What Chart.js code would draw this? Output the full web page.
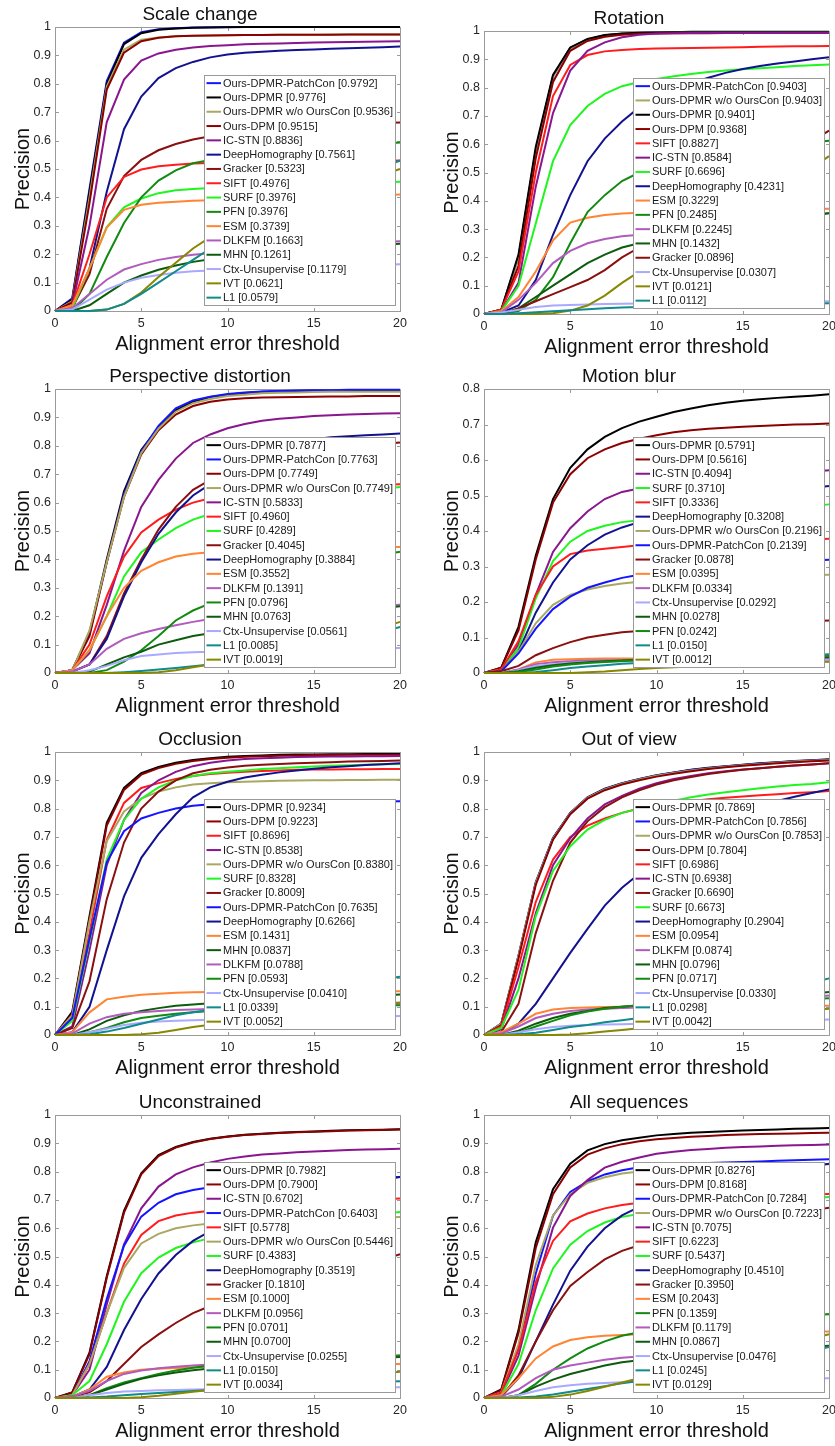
<!DOCTYPE html>
<html>
<head>
<meta charset="utf-8">
<script src="https://cdn.jsdelivr.net/npm/chart.js@4.4.1/dist/chart.umd.min.js"></script>
<style>
html,body{margin:0;padding:0;background:#fff;width:835px;height:1446px;overflow:hidden;position:relative;}
canvas{position:absolute;display:block;}
</style>
</head>
<body>
<script>
// ---------------- DATA ----------------
const thresholds = [0,1,2,3,4,5,6,7,8,9,10,11,12,13,14,15,16,17,18,19,20];
const xTickValues = [0,5,10,15,20];

// Scale change
const scaleTitle = 'Scale change';
const scaleNames = ['Ours-DPMR-PatchCon','Ours-DPMR','Ours-DPMR w/o OursCon','Ours-DPM','IC-STN','DeepHomography','Gracker','SIFT','SURF','PFN','ESM','DLKFM','MHN','Ctx-Unsupervise','IVT','L1'];
const scaleAUC = [0.9792,0.9776,0.9536,0.9515,0.8836,0.7561,0.5323,0.4976,0.3976,0.3976,0.3739,0.1663,0.1261,0.1179,0.0621,0.0579];
const scaleValues = [
[0,0.045,0.43,0.81,0.945,0.982,0.992,0.996,0.998,0.999,1,1,1,1,1,1,1,1,1,1,1],
[0,0.04,0.42,0.80,0.94,0.978,0.99,0.995,0.997,0.998,0.999,1,1,1,1,1,1,1,1,1,1],
[0,0.035,0.40,0.79,0.92,0.955,0.963,0.967,0.969,0.97,0.971,0.972,0.972,0.973,0.973,0.973,0.974,0.974,0.974,0.974,0.974],
[0,0.03,0.38,0.78,0.91,0.95,0.962,0.967,0.969,0.97,0.971,0.972,0.972,0.973,0.973,0.973,0.973,0.974,0.974,0.974,0.974],
[0,0.02,0.30,0.665,0.815,0.882,0.907,0.92,0.928,0.933,0.936,0.939,0.941,0.942,0.944,0.945,0.946,0.947,0.948,0.949,0.95],
[0,0.01,0.15,0.42,0.64,0.755,0.82,0.855,0.877,0.893,0.903,0.909,0.913,0.916,0.919,0.921,0.923,0.925,0.927,0.929,0.931],
[0,0.01,0.13,0.36,0.475,0.532,0.566,0.588,0.604,0.615,0.624,0.632,0.638,0.643,0.647,0.651,0.654,0.657,0.659,0.662,0.664],
[0,0.02,0.20,0.40,0.472,0.498,0.51,0.515,0.519,0.521,0.523,0.524,0.525,0.526,0.527,0.527,0.528,0.528,0.529,0.529,0.53],
[0,0.01,0.15,0.296,0.365,0.396,0.415,0.425,0.43,0.433,0.436,0.438,0.44,0.442,0.444,0.446,0.448,0.45,0.451,0.453,0.455],
[0,0,0.06,0.19,0.31,0.40,0.459,0.495,0.52,0.532,0.54,0.548,0.555,0.561,0.567,0.572,0.577,0.581,0.585,0.589,0.593],
[0,0.02,0.15,0.294,0.356,0.374,0.381,0.385,0.388,0.39,0.392,0.394,0.396,0.398,0.4,0.402,0.403,0.405,0.407,0.408,0.41],
[0,0.01,0.06,0.11,0.146,0.165,0.18,0.19,0.198,0.203,0.208,0.212,0.216,0.22,0.224,0.228,0.232,0.235,0.239,0.243,0.246],
[0,0,0.02,0.06,0.10,0.125,0.145,0.16,0.173,0.182,0.19,0.196,0.202,0.207,0.212,0.217,0.221,0.225,0.229,0.233,0.237],
[0,0.005,0.04,0.075,0.10,0.117,0.127,0.135,0.14,0.143,0.146,0.148,0.15,0.152,0.154,0.156,0.158,0.16,0.162,0.163,0.165],
[0,0,0,0.005,0.025,0.065,0.12,0.17,0.22,0.26,0.29,0.32,0.345,0.37,0.39,0.41,0.43,0.45,0.465,0.48,0.50],
[0,0,0,0.005,0.025,0.06,0.1,0.14,0.18,0.22,0.255,0.29,0.32,0.35,0.38,0.405,0.43,0.455,0.48,0.505,0.53]
];

// Rotation
const rotationTitle = 'Rotation';
const rotationNames = ['Ours-DPMR-PatchCon','Ours-DPMR w/o OursCon','Ours-DPMR','Ours-DPM','SIFT','IC-STN','SURF','DeepHomography','ESM','PFN','DLKFM','MHN','Gracker','Ctx-Unsupervise','IVT','L1'];
const rotationAUC = [0.9403,0.9403,0.9401,0.9368,0.8827,0.8584,0.6696,0.4231,0.3229,0.2485,0.2245,0.1432,0.0896,0.0307,0.0121,0.0112];
const rotationValues = [
[0,0.015,0.2,0.58,0.84,0.94,0.97,0.985,0.99,0.993,0.995,0.996,0.997,0.997,0.997,0.997,0.997,0.997,0.997,0.997,0.997],
[0,0.015,0.2,0.58,0.84,0.94,0.97,0.985,0.99,0.993,0.995,0.996,0.997,0.997,0.997,0.997,0.997,0.997,0.997,0.997,0.997],
[0,0.015,0.21,0.59,0.845,0.942,0.972,0.986,0.991,0.994,0.995,0.996,0.996,0.996,0.996,0.996,0.996,0.996,0.996,0.996,0.996],
[0,0.015,0.17,0.55,0.82,0.93,0.965,0.98,0.987,0.99,0.991,0.992,0.992,0.992,0.993,0.993,0.993,0.993,0.993,0.993,0.993],
[0,0.015,0.15,0.50,0.77,0.88,0.915,0.928,0.933,0.936,0.938,0.939,0.94,0.941,0.942,0.943,0.944,0.945,0.946,0.946,0.947],
[0,0.01,0.11,0.45,0.71,0.86,0.93,0.96,0.978,0.987,0.991,0.992,0.993,0.993,0.993,0.993,0.993,0.993,0.993,0.993,0.993],
[0,0.01,0.10,0.32,0.54,0.668,0.735,0.778,0.805,0.82,0.83,0.84,0.848,0.855,0.86,0.865,0.868,0.872,0.876,0.879,0.882],
[0,0.005,0.03,0.12,0.28,0.42,0.54,0.62,0.68,0.73,0.765,0.79,0.815,0.835,0.852,0.866,0.876,0.885,0.892,0.90,0.907],
[0,0.01,0.06,0.15,0.26,0.323,0.34,0.35,0.355,0.358,0.36,0.361,0.362,0.364,0.365,0.366,0.367,0.368,0.37,0.371,0.372],
[0,0,0.01,0.05,0.13,0.25,0.36,0.42,0.47,0.50,0.52,0.535,0.548,0.56,0.57,0.578,0.586,0.593,0.6,0.606,0.612],
[0,0.005,0.05,0.11,0.18,0.223,0.25,0.265,0.275,0.28,0.287,0.294,0.301,0.308,0.315,0.322,0.329,0.336,0.343,0.35,0.357],
[0,0,0.02,0.06,0.10,0.14,0.18,0.21,0.235,0.25,0.262,0.273,0.284,0.294,0.304,0.313,0.322,0.331,0.34,0.348,0.356],
[0,0,0.02,0.045,0.07,0.095,0.12,0.155,0.2,0.235,0.27,0.31,0.35,0.39,0.43,0.465,0.5,0.54,0.575,0.61,0.648],
[0,0.005,0.015,0.025,0.03,0.032,0.034,0.035,0.036,0.037,0.038,0.039,0.039,0.04,0.04,0.041,0.042,0.043,0.043,0.044,0.045],
[0,0,0,0,0.003,0.012,0.03,0.065,0.11,0.15,0.19,0.225,0.26,0.295,0.33,0.37,0.405,0.44,0.475,0.515,0.558],
[0,0,0.003,0.006,0.01,0.013,0.017,0.02,0.023,0.025,0.027,0.028,0.029,0.03,0.031,0.032,0.033,0.034,0.035,0.037,0.038]
];

// Perspective distortion
const perspectiveTitle = 'Perspective distortion';
const perspectiveNames = ['Ours-DPMR','Ours-DPMR-PatchCon','Ours-DPM','Ours-DPMR w/o OursCon','IC-STN','SIFT','SURF','Gracker','DeepHomography','ESM','DLKFM','PFN','MHN','Ctx-Unsupervise','L1','IVT'];
const perspectiveAUC = [0.7877,0.7763,0.7749,0.7749,0.5833,0.4960,0.4289,0.4045,0.3884,0.3552,0.1391,0.0796,0.0763,0.0561,0.0085,0.0019];
const perspectiveValues = [
[0,0.01,0.14,0.40,0.64,0.785,0.865,0.925,0.955,0.972,0.98,0.986,0.99,0.992,0.993,0.994,0.994,0.995,0.995,0.995,0.995],
[0,0.01,0.14,0.39,0.63,0.78,0.87,0.932,0.96,0.973,0.982,0.988,0.991,0.993,0.995,0.996,0.996,0.997,0.997,0.997,0.997],
[0,0.01,0.13,0.39,0.62,0.77,0.855,0.91,0.94,0.955,0.963,0.967,0.97,0.971,0.972,0.973,0.974,0.974,0.975,0.975,0.975],
[0,0.01,0.15,0.39,0.62,0.775,0.86,0.92,0.95,0.965,0.975,0.98,0.985,0.987,0.988,0.989,0.99,0.99,0.99,0.99,0.99],
[0,0.01,0.07,0.24,0.43,0.585,0.68,0.755,0.81,0.84,0.862,0.877,0.888,0.895,0.9,0.905,0.908,0.91,0.912,0.914,0.915],
[0,0.01,0.10,0.27,0.41,0.495,0.54,0.575,0.60,0.615,0.625,0.633,0.64,0.645,0.649,0.653,0.656,0.659,0.661,0.663,0.665],
[0,0.01,0.08,0.20,0.34,0.425,0.47,0.51,0.54,0.56,0.574,0.586,0.597,0.607,0.616,0.624,0.631,0.637,0.643,0.649,0.655],
[0,0.005,0.03,0.13,0.28,0.40,0.505,0.585,0.645,0.68,0.705,0.725,0.742,0.756,0.768,0.778,0.787,0.794,0.8,0.806,0.812],
[0,0.005,0.03,0.12,0.27,0.39,0.49,0.565,0.625,0.665,0.71,0.745,0.775,0.798,0.813,0.823,0.83,0.834,0.837,0.84,0.843],
[0,0.01,0.08,0.20,0.30,0.36,0.39,0.41,0.42,0.425,0.429,0.432,0.434,0.436,0.438,0.439,0.44,0.441,0.442,0.443,0.444],
[0,0.005,0.03,0.085,0.12,0.14,0.155,0.168,0.18,0.19,0.196,0.201,0.206,0.211,0.216,0.221,0.225,0.229,0.233,0.237,0.24],
[0,0,0,0.01,0.04,0.08,0.13,0.185,0.22,0.245,0.27,0.29,0.31,0.33,0.345,0.36,0.375,0.39,0.403,0.416,0.427],
[0,0,0.005,0.03,0.055,0.075,0.10,0.115,0.13,0.14,0.149,0.158,0.167,0.176,0.185,0.194,0.203,0.212,0.22,0.228,0.235],
[0,0,0.01,0.025,0.045,0.06,0.065,0.07,0.073,0.075,0.077,0.078,0.079,0.08,0.081,0.082,0.083,0.084,0.085,0.087,0.088],
[0,0,0,0,0.003,0.007,0.012,0.018,0.024,0.03,0.037,0.045,0.055,0.065,0.077,0.089,0.102,0.115,0.128,0.145,0.162],
[0,0,0,0,0,0,0.003,0.01,0.02,0.03,0.04,0.05,0.062,0.075,0.088,0.1,0.114,0.128,0.142,0.16,0.18]
];

// Motion blur
const motionTitle = 'Motion blur';
const motionNames = ['Ours-DPMR','Ours-DPM','IC-STN','SURF','SIFT','DeepHomography','Ours-DPMR w/o OursCon','Ours-DPMR-PatchCon','Gracker','ESM','DLKFM','Ctx-Unsupervise','MHN','PFN','L1','IVT'];
const motionAUC = [0.5791,0.5616,0.4094,0.3710,0.3336,0.3208,0.2196,0.2139,0.0878,0.0395,0.0334,0.0292,0.0278,0.0242,0.0150,0.0012];
const motionValues = [
[0,0.015,0.13,0.33,0.49,0.578,0.63,0.665,0.69,0.708,0.722,0.735,0.745,0.754,0.761,0.767,0.771,0.775,0.778,0.781,0.785],
[0,0.015,0.12,0.32,0.48,0.56,0.605,0.63,0.648,0.66,0.67,0.678,0.684,0.688,0.691,0.694,0.696,0.698,0.70,0.701,0.703],
[0,0.01,0.08,0.22,0.341,0.408,0.455,0.49,0.51,0.52,0.527,0.533,0.538,0.543,0.547,0.551,0.555,0.559,0.563,0.567,0.571],
[0,0.01,0.07,0.21,0.315,0.37,0.40,0.415,0.425,0.43,0.434,0.438,0.442,0.446,0.45,0.454,0.458,0.462,0.466,0.47,0.475],
[0,0.01,0.09,0.22,0.30,0.335,0.345,0.35,0.355,0.36,0.362,0.364,0.366,0.367,0.369,0.37,0.372,0.373,0.375,0.376,0.378],
[0,0.005,0.06,0.17,0.255,0.32,0.36,0.39,0.41,0.425,0.44,0.453,0.465,0.475,0.485,0.494,0.502,0.509,0.515,0.521,0.527],
[0,0.005,0.06,0.14,0.192,0.22,0.235,0.245,0.252,0.257,0.26,0.262,0.264,0.266,0.268,0.27,0.272,0.273,0.275,0.276,0.277],
[0,0.005,0.055,0.125,0.18,0.215,0.24,0.255,0.268,0.277,0.284,0.29,0.295,0.3,0.304,0.307,0.31,0.313,0.315,0.317,0.319],
[0,0.005,0.02,0.05,0.07,0.087,0.10,0.108,0.115,0.118,0.121,0.124,0.127,0.13,0.133,0.136,0.139,0.141,0.143,0.146,0.148],
[0,0,0.01,0.03,0.037,0.039,0.04,0.041,0.041,0.041,0.042,0.042,0.042,0.043,0.043,0.043,0.044,0.044,0.044,0.045,0.045],
[0,0,0.01,0.025,0.03,0.033,0.035,0.036,0.036,0.037,0.037,0.037,0.038,0.038,0.038,0.039,0.039,0.039,0.04,0.04,0.04],
[0,0,0.008,0.02,0.025,0.029,0.031,0.032,0.033,0.033,0.034,0.034,0.034,0.035,0.035,0.035,0.035,0.036,0.036,0.036,0.036],
[0,0,0.005,0.015,0.022,0.027,0.03,0.033,0.035,0.037,0.038,0.039,0.04,0.041,0.042,0.042,0.043,0.043,0.044,0.044,0.045],
[0,0,0.003,0.01,0.018,0.024,0.028,0.031,0.034,0.036,0.038,0.039,0.041,0.042,0.043,0.044,0.045,0.046,0.047,0.047,0.048],
[0,0,0,0.003,0.008,0.014,0.018,0.022,0.026,0.028,0.031,0.033,0.035,0.037,0.039,0.041,0.043,0.046,0.048,0.051,0.053],
[0,0,0,0,0,0,0.002,0.004,0.008,0.011,0.014,0.016,0.018,0.02,0.022,0.024,0.025,0.027,0.029,0.03,0.032]
];

// Occlusion
const occlusionTitle = 'Occlusion';
const occlusionNames = ['Ours-DPMR','Ours-DPM','SIFT','IC-STN','Ours-DPMR w/o OursCon','SURF','Gracker','Ours-DPMR-PatchCon','DeepHomography','ESM','MHN','DLKFM','PFN','Ctx-Unsupervise','L1','IVT'];
const occlusionAUC = [0.9234,0.9223,0.8696,0.8538,0.8380,0.8328,0.8009,0.7635,0.6266,0.1431,0.0837,0.0788,0.0593,0.0410,0.0339,0.0052];
const occlusionValues = [
[0,0.082,0.42,0.75,0.873,0.925,0.947,0.962,0.972,0.978,0.983,0.986,0.988,0.99,0.991,0.991,0.992,0.992,0.993,0.993,0.993],
[0,0.075,0.41,0.74,0.866,0.92,0.943,0.958,0.968,0.975,0.98,0.983,0.985,0.987,0.988,0.989,0.989,0.99,0.99,0.99,0.99],
[0,0.06,0.36,0.69,0.82,0.873,0.89,0.905,0.915,0.922,0.927,0.93,0.933,0.935,0.937,0.938,0.938,0.939,0.939,0.94,0.94],
[0,0.03,0.30,0.60,0.76,0.855,0.90,0.93,0.95,0.962,0.97,0.975,0.978,0.98,0.982,0.983,0.984,0.984,0.985,0.985,0.986],
[0,0.07,0.40,0.685,0.79,0.835,0.86,0.875,0.885,0.89,0.893,0.895,0.897,0.898,0.899,0.9,0.9,0.901,0.901,0.902,0.902],
[0,0.05,0.33,0.62,0.76,0.835,0.875,0.90,0.915,0.925,0.93,0.935,0.94,0.943,0.946,0.949,0.951,0.953,0.955,0.957,0.958],
[0,0.025,0.19,0.48,0.68,0.80,0.86,0.90,0.925,0.937,0.945,0.951,0.955,0.958,0.96,0.962,0.964,0.966,0.967,0.968,0.97],
[0,0.06,0.34,0.61,0.72,0.765,0.785,0.80,0.81,0.815,0.818,0.819,0.82,0.821,0.822,0.823,0.824,0.824,0.825,0.825,0.826],
[0,0.01,0.10,0.30,0.49,0.626,0.71,0.78,0.84,0.875,0.895,0.91,0.92,0.928,0.935,0.941,0.946,0.95,0.954,0.957,0.96],
[0,0.01,0.08,0.126,0.135,0.142,0.146,0.149,0.151,0.152,0.153,0.153,0.153,0.154,0.154,0.154,0.154,0.155,0.155,0.155,0.155],
[0,0,0.02,0.05,0.07,0.085,0.095,0.103,0.108,0.112,0.115,0.118,0.12,0.123,0.125,0.128,0.131,0.134,0.137,0.14,0.143],
[0,0.005,0.04,0.063,0.075,0.08,0.085,0.088,0.09,0.092,0.093,0.095,0.096,0.098,0.1,0.101,0.103,0.105,0.106,0.108,0.11],
[0,0,0.01,0.025,0.045,0.06,0.068,0.075,0.08,0.085,0.087,0.089,0.091,0.093,0.095,0.097,0.099,0.1,0.102,0.103,0.105],
[0,0,0.01,0.022,0.035,0.043,0.048,0.05,0.052,0.054,0.055,0.056,0.057,0.058,0.059,0.06,0.061,0.062,0.064,0.065,0.067],
[0,0,0.003,0.012,0.025,0.04,0.055,0.07,0.08,0.088,0.1,0.112,0.124,0.136,0.148,0.16,0.17,0.18,0.189,0.198,0.206],
[0,0,0,0,0,0.003,0.008,0.018,0.028,0.036,0.045,0.053,0.06,0.068,0.076,0.084,0.091,0.098,0.104,0.11,0.115]
];

// Out of view
const outOfViewTitle = 'Out of view';
const outOfViewNames = ['Ours-DPMR','Ours-DPMR-PatchCon','Ours-DPMR w/o OursCon','Ours-DPM','SIFT','IC-STN','Gracker','SURF','DeepHomography','ESM','DLKFM','MHN','PFN','Ctx-Unsupervise','L1','IVT'];
const outOfViewAUC = [0.7869,0.7856,0.7853,0.7804,0.6986,0.6938,0.6690,0.6673,0.2904,0.0954,0.0874,0.0796,0.0717,0.0330,0.0298,0.0042];
const outOfViewValues = [
[0,0.04,0.28,0.54,0.696,0.785,0.84,0.87,0.89,0.905,0.918,0.928,0.937,0.944,0.95,0.955,0.96,0.964,0.968,0.971,0.974],
[0,0.04,0.28,0.538,0.695,0.784,0.839,0.869,0.889,0.904,0.917,0.927,0.936,0.943,0.949,0.954,0.959,0.963,0.967,0.97,0.973],
[0,0.04,0.28,0.537,0.694,0.783,0.838,0.868,0.888,0.903,0.916,0.926,0.935,0.942,0.948,0.953,0.958,0.962,0.966,0.969,0.972],
[0,0.035,0.27,0.53,0.69,0.78,0.835,0.865,0.885,0.9,0.913,0.923,0.932,0.94,0.946,0.951,0.956,0.96,0.964,0.967,0.97],
[0,0.03,0.24,0.47,0.62,0.70,0.74,0.765,0.785,0.80,0.81,0.818,0.826,0.833,0.838,0.843,0.847,0.851,0.855,0.858,0.862],
[0,0.02,0.20,0.43,0.60,0.695,0.765,0.815,0.845,0.87,0.89,0.905,0.915,0.925,0.932,0.938,0.943,0.948,0.952,0.956,0.96],
[0,0.01,0.11,0.36,0.545,0.68,0.755,0.805,0.84,0.865,0.885,0.9,0.912,0.922,0.93,0.937,0.943,0.948,0.952,0.956,0.96],
[0,0.025,0.16,0.42,0.58,0.667,0.726,0.76,0.785,0.80,0.815,0.828,0.84,0.85,0.858,0.865,0.872,0.878,0.883,0.887,0.893],
[0,0.005,0.04,0.11,0.20,0.29,0.375,0.457,0.52,0.57,0.615,0.66,0.70,0.735,0.765,0.79,0.81,0.827,0.842,0.855,0.868],
[0,0.01,0.04,0.075,0.09,0.095,0.097,0.099,0.1,0.1,0.1,0.101,0.101,0.101,0.102,0.102,0.102,0.102,0.103,0.103,0.103],
[0,0.005,0.03,0.06,0.075,0.085,0.09,0.093,0.095,0.097,0.1,0.103,0.106,0.109,0.113,0.117,0.121,0.125,0.129,0.134,0.14],
[0,0,0.015,0.04,0.06,0.075,0.085,0.095,0.1,0.105,0.109,0.113,0.117,0.121,0.125,0.129,0.133,0.137,0.141,0.146,0.152],
[0,0,0.008,0.03,0.05,0.07,0.083,0.093,0.1,0.105,0.108,0.11,0.112,0.114,0.116,0.118,0.12,0.122,0.124,0.127,0.13],
[0,0,0.01,0.02,0.028,0.033,0.035,0.037,0.038,0.04,0.041,0.042,0.043,0.044,0.045,0.046,0.048,0.049,0.051,0.053,0.055],
[0,0,0.003,0.008,0.018,0.028,0.035,0.045,0.052,0.06,0.07,0.08,0.09,0.101,0.113,0.125,0.139,0.153,0.168,0.184,0.2],
[0,0,0,0,0,0.002,0.006,0.012,0.018,0.024,0.03,0.037,0.045,0.052,0.059,0.065,0.071,0.077,0.082,0.088,0.093]
];

// Unconstrained
const unconstrainedTitle = 'Unconstrained';
const unconstrainedNames = ['Ours-DPMR','Ours-DPM','IC-STN','Ours-DPMR-PatchCon','SIFT','Ours-DPMR w/o OursCon','SURF','DeepHomography','Gracker','ESM','DLKFM','PFN','MHN','Ctx-Unsupervise','L1','IVT'];
const unconstrainedAUC = [0.7982,0.7900,0.6702,0.6403,0.5778,0.5446,0.4383,0.3519,0.1810,0.1000,0.0956,0.0701,0.0700,0.0255,0.0150,0.0034];
const unconstrainedValues = [
[0,0.02,0.16,0.43,0.661,0.794,0.858,0.887,0.905,0.916,0.924,0.93,0.934,0.937,0.94,0.942,0.944,0.946,0.947,0.948,0.95],
[0,0.02,0.155,0.425,0.655,0.79,0.855,0.885,0.903,0.915,0.923,0.929,0.933,0.936,0.939,0.941,0.943,0.945,0.946,0.947,0.949],
[0,0.01,0.10,0.33,0.543,0.67,0.747,0.79,0.815,0.832,0.845,0.853,0.86,0.864,0.868,0.871,0.874,0.876,0.878,0.879,0.881],
[0,0.01,0.13,0.35,0.538,0.641,0.69,0.72,0.735,0.745,0.752,0.757,0.761,0.764,0.767,0.77,0.772,0.775,0.777,0.779,0.781],
[0,0.01,0.12,0.30,0.475,0.576,0.625,0.645,0.655,0.662,0.667,0.672,0.676,0.68,0.684,0.688,0.692,0.696,0.699,0.702,0.705],
[0,0.01,0.12,0.30,0.46,0.546,0.58,0.60,0.61,0.617,0.62,0.622,0.624,0.626,0.628,0.63,0.632,0.634,0.636,0.638,0.64],
[0,0.01,0.06,0.19,0.34,0.441,0.496,0.53,0.55,0.565,0.577,0.588,0.598,0.607,0.615,0.623,0.63,0.637,0.644,0.651,0.657],
[0,0.005,0.03,0.11,0.24,0.35,0.44,0.505,0.555,0.59,0.62,0.645,0.667,0.687,0.705,0.721,0.735,0.748,0.76,0.771,0.781],
[0,0.005,0.02,0.06,0.12,0.18,0.225,0.265,0.30,0.325,0.345,0.365,0.382,0.398,0.413,0.427,0.44,0.455,0.47,0.489,0.508],
[0,0.005,0.03,0.075,0.09,0.10,0.103,0.106,0.108,0.11,0.111,0.112,0.113,0.114,0.115,0.116,0.117,0.118,0.119,0.119,0.12],
[0,0.005,0.025,0.06,0.085,0.097,0.105,0.11,0.115,0.118,0.121,0.124,0.127,0.13,0.133,0.136,0.139,0.141,0.144,0.147,0.15],
[0,0,0.01,0.035,0.055,0.07,0.085,0.097,0.107,0.115,0.119,0.123,0.126,0.129,0.132,0.135,0.138,0.141,0.144,0.147,0.15],
[0,0,0.01,0.03,0.05,0.068,0.08,0.09,0.098,0.104,0.109,0.113,0.117,0.121,0.125,0.129,0.132,0.135,0.138,0.142,0.145],
[0,0,0.01,0.018,0.023,0.025,0.027,0.028,0.03,0.031,0.032,0.032,0.033,0.033,0.034,0.035,0.035,0.036,0.037,0.037,0.038],
[0,0,0.002,0.005,0.01,0.014,0.018,0.021,0.025,0.028,0.031,0.034,0.037,0.039,0.042,0.045,0.048,0.051,0.054,0.057,0.059],
[0,0,0,0,0,0.003,0.008,0.015,0.022,0.028,0.034,0.04,0.045,0.051,0.056,0.062,0.068,0.074,0.08,0.087,0.093]
];

// All sequences
const allSeqTitle = 'All sequences';
const allSeqNames = ['Ours-DPMR','Ours-DPM','Ours-DPMR-PatchCon','Ours-DPMR w/o OursCon','IC-STN','SIFT','SURF','DeepHomography','Gracker','ESM','PFN','DLKFM','MHN','Ctx-Unsupervise','L1','IVT'];
const allSeqAUC = [0.8276,0.8168,0.7284,0.7223,0.7075,0.6223,0.5437,0.4510,0.3950,0.2043,0.1359,0.1179,0.0867,0.0476,0.0245,0.0129];
const allSeqValues = [
[0,0.03,0.24,0.55,0.738,0.828,0.875,0.897,0.911,0.92,0.928,0.933,0.937,0.94,0.943,0.945,0.947,0.949,0.951,0.952,0.954],
[0,0.028,0.23,0.53,0.72,0.815,0.86,0.882,0.897,0.907,0.914,0.919,0.923,0.926,0.929,0.931,0.933,0.934,0.935,0.936,0.937],
[0,0.02,0.18,0.44,0.644,0.728,0.765,0.79,0.805,0.815,0.82,0.824,0.827,0.83,0.832,0.834,0.836,0.838,0.84,0.842,0.844],
[0,0.02,0.19,0.47,0.645,0.72,0.76,0.78,0.793,0.80,0.804,0.807,0.81,0.812,0.814,0.816,0.818,0.82,0.822,0.824,0.826],
[0,0.015,0.15,0.39,0.602,0.714,0.77,0.814,0.835,0.85,0.863,0.87,0.876,0.88,0.884,0.887,0.889,0.891,0.893,0.894,0.896],
[0,0.02,0.17,0.41,0.555,0.624,0.652,0.67,0.682,0.69,0.695,0.699,0.702,0.705,0.708,0.711,0.713,0.715,0.717,0.719,0.721],
[0,0.01,0.12,0.31,0.458,0.542,0.59,0.62,0.64,0.65,0.658,0.665,0.671,0.677,0.683,0.688,0.693,0.698,0.702,0.706,0.71],
[0,0.005,0.07,0.20,0.33,0.45,0.535,0.60,0.645,0.675,0.70,0.72,0.738,0.754,0.768,0.78,0.791,0.801,0.81,0.819,0.828],
[0,0.005,0.08,0.20,0.31,0.396,0.445,0.49,0.52,0.54,0.558,0.574,0.588,0.601,0.613,0.624,0.634,0.644,0.654,0.663,0.672],
[0,0.01,0.07,0.14,0.182,0.205,0.215,0.22,0.223,0.225,0.226,0.227,0.228,0.229,0.23,0.231,0.232,0.232,0.233,0.234,0.235],
[0,0,0.01,0.05,0.10,0.14,0.175,0.20,0.22,0.232,0.241,0.249,0.256,0.263,0.269,0.275,0.28,0.285,0.29,0.293,0.296],
[0,0.005,0.03,0.07,0.10,0.115,0.125,0.135,0.142,0.147,0.151,0.154,0.157,0.16,0.163,0.166,0.169,0.172,0.175,0.178,0.18],
[0,0,0.01,0.04,0.065,0.085,0.10,0.115,0.126,0.133,0.139,0.145,0.15,0.155,0.16,0.165,0.169,0.173,0.177,0.181,0.185],
[0,0,0.01,0.025,0.038,0.045,0.05,0.053,0.056,0.058,0.06,0.061,0.062,0.063,0.064,0.065,0.066,0.067,0.068,0.069,0.07],
[0,0,0.002,0.005,0.012,0.022,0.032,0.042,0.052,0.06,0.07,0.08,0.09,0.1,0.11,0.12,0.132,0.144,0.156,0.168,0.18],
[0,0,0,0,0.004,0.012,0.025,0.04,0.055,0.07,0.085,0.098,0.11,0.123,0.136,0.15,0.165,0.18,0.195,0.21,0.225]
];

const yMaxes = [1, 1, 1, 0.8, 1, 1, 1, 1];

// ---------------- STYLE ----------------
const lineColors = {
  'Ours-DPMR-PatchCon': '#1414ff',
  'Ours-DPMR': '#000000',
  'Ours-DPMR w/o OursCon': '#a9a862',
  'Ours-DPM': '#8b0000',
  'IC-STN': '#8a168f',
  'DeepHomography': '#121290',
  'Gracker': '#8a0f0f',
  'SIFT': '#ff1c1c',
  'SURF': '#1ff51f',
  'PFN': '#128a12',
  'ESM': '#ff8433',
  'DLKFM': '#b05bbd',
  'MHN': '#0d5c0d',
  'Ctx-Unsupervise': '#a9a9ff',
  'IVT': '#878700',
  'L1': '#108a8a'
};
const FONT = '"Liberation Sans", Arial, Helvetica, sans-serif';
const AXIS_COLOR = '#9a9a9a';
const TEXT_COLOR = '#262626';

const panels = [
  {title: scaleTitle, names: scaleNames, auc: scaleAUC, values: scaleValues},
  {title: rotationTitle, names: rotationNames, auc: rotationAUC, values: rotationValues},
  {title: perspectiveTitle, names: perspectiveNames, auc: perspectiveAUC, values: perspectiveValues},
  {title: motionTitle, names: motionNames, auc: motionAUC, values: motionValues},
  {title: occlusionTitle, names: occlusionNames, auc: occlusionAUC, values: occlusionValues},
  {title: outOfViewTitle, names: outOfViewNames, auc: outOfViewAUC, values: outOfViewValues},
  {title: unconstrainedTitle, names: unconstrainedNames, auc: unconstrainedAUC, values: unconstrainedValues},
  {title: allSeqTitle, names: allSeqNames, auc: allSeqAUC, values: allSeqValues}
];
// canvas placement (left, top, plot height)
const placement = [
  [0, -1, 284], [429, 3, 283],
  [0, 361, 284], [429, 361, 284],
  [0, 724, 283], [429, 724, 283],
  [0, 1087, 283], [429, 1087, 283]
];
const TITLE_H = 28, XAXIS_H = 52, YAXIS_W = 55, RIGHT_PAD = 20, PLOT_W = 345;

const matlabAxes = {
  id: 'matlabAxes',
  beforeDatasetsDraw(chart) {
    const {ctx, chartArea: a, scales: {x, y}} = chart;
    const L = Math.round(a.left) + 0.5, R = Math.round(a.right) + 0.5;
    const T = Math.round(a.top) + 0.5, B = Math.round(a.bottom) + 0.5;
    const TL = 3.5;
    ctx.save();
    ctx.strokeStyle = AXIS_COLOR;
    ctx.lineWidth = 1;
    ctx.beginPath();
    ctx.rect(L, T, R - L, B - T);
    x.ticks.forEach(t => {
      const px = Math.round(x.getPixelForValue(t.value)) + 0.5;
      ctx.moveTo(px, B); ctx.lineTo(px, B - TL);
      ctx.moveTo(px, T); ctx.lineTo(px, T + TL);
    });
    y.ticks.forEach(t => {
      const py = Math.round(y.getPixelForValue(t.value)) + 0.5;
      ctx.moveTo(L, py); ctx.lineTo(L + TL, py);
      ctx.moveTo(R, py); ctx.lineTo(R - TL, py);
    });
    ctx.stroke();
    ctx.restore();
  },
  afterDatasetsDraw(chart) {
    const {ctx, chartArea: a} = chart;
    const ds = chart.data.datasets;
    ctx.save();
    ctx.font = '11px ' + FONT;
    const tw = Math.max(...ds.map(d => ctx.measureText(d.label).width));
    const rowH = 14.3;
    const w = Math.round(2.5 + 14.5 + 2 + tw + 2.5);
    const h = Math.round(rowH * ds.length + 1);
    const right = Math.round(a.right - 5);
    const bottom = Math.round(a.bottom - 6);
    const left = right - w, top = bottom - h;
    ctx.fillStyle = '#ffffff';
    ctx.fillRect(left, top, w, h);
    ctx.strokeStyle = AXIS_COLOR;
    ctx.lineWidth = 1;
    ctx.strokeRect(left + 0.5, top + 0.5, w, h);
    ctx.textBaseline = 'middle';
    ctx.textAlign = 'left';
    ds.forEach((d, i) => {
      const cy = top + 1 + rowH * (i + 0.5);
      ctx.strokeStyle = d.borderColor;
      ctx.lineWidth = 2;
      ctx.beginPath();
      ctx.moveTo(left + 2.5, cy);
      ctx.lineTo(left + 17, cy);
      ctx.stroke();
      ctx.fillStyle = '#1a1a1a';
      ctx.fillText(d.label, left + 19, cy + 0.5);
    });
    ctx.restore();
  }
};

panels.forEach((p, idx) => {
  const [left, top, plotH] = placement[idx];
  const cv = document.createElement('canvas');
  const W = YAXIS_W + PLOT_W + RIGHT_PAD;
  const H = TITLE_H + plotH + XAXIS_H;
  cv.width = W; cv.height = H;
  cv.style.left = left + 'px';
  cv.style.top = top + 'px';
  cv.style.width = W + 'px';
  cv.style.height = H + 'px';
  document.body.appendChild(cv);

  const n = p.names.length;
  const datasets = p.names.map((name, i) => ({
    label: name + ' [' + p.auc[i].toFixed(4) + ']',
    data: p.values[i].map((v, k) => ({x: thresholds[k], y: v})),
    borderColor: lineColors[name],
    backgroundColor: lineColors[name],
    borderWidth: 2,
    pointRadius: 0,
    tension: 0,
    fill: false,
    clip: false,
    order: n - i
  }));

  new Chart(cv, {
    type: 'line',
    data: {datasets},
    plugins: [matlabAxes],
    options: {
      responsive: false,
      devicePixelRatio: 1,
      animation: false,
      events: [],
      layout: {padding: {left: 0, top: 0, right: RIGHT_PAD, bottom: 0}},
      plugins: {
        legend: {display: false},
        tooltip: {enabled: false},
        title: {
          display: true,
          text: p.title,
          color: '#111111',
          font: {family: FONT, size: 19, weight: 'normal', lineHeight: 1.2},
          padding: {top: 4, bottom: 1.2}
        }
      },
      scales: {
        x: {
          type: 'linear',
          min: 0, max: 20,
          afterFit: s => { s.height = XAXIS_H; },
          afterBuildTicks: s => { s.ticks = xTickValues.map(v => ({value: v})); },
          grid: {display: false, drawTicks: false},
          border: {display: false},
          ticks: {
            color: TEXT_COLOR, padding: 5, maxRotation: 0, autoSkip: false,
            font: {family: FONT, size: 12.5},
            callback: v => String(v)
          },
          title: {
            display: true, text: 'Alignment error threshold', color: '#111111',
            font: {family: FONT, size: 20, lineHeight: 1.2},
            padding: {top: 0, bottom: 6.5}
          }
        },
        y: {
          min: 0, max: yMaxes[idx],
          afterFit: s => { s.width = YAXIS_W; },
          grid: {display: false, drawTicks: false},
          border: {display: false},
          ticks: {
            stepSize: 0.1, color: TEXT_COLOR, padding: 4, autoSkip: false,
            font: {family: FONT, size: 12.5},
            callback: v => String(Math.round(v * 10) / 10)
          },
          title: {
            display: true, text: 'Precision', color: '#111111',
            font: {family: FONT, size: 20, lineHeight: 1.2},
            padding: {top: 11, bottom: 0}
          }
        }
      }
    }
  });
});
</script>
</body>
</html>
